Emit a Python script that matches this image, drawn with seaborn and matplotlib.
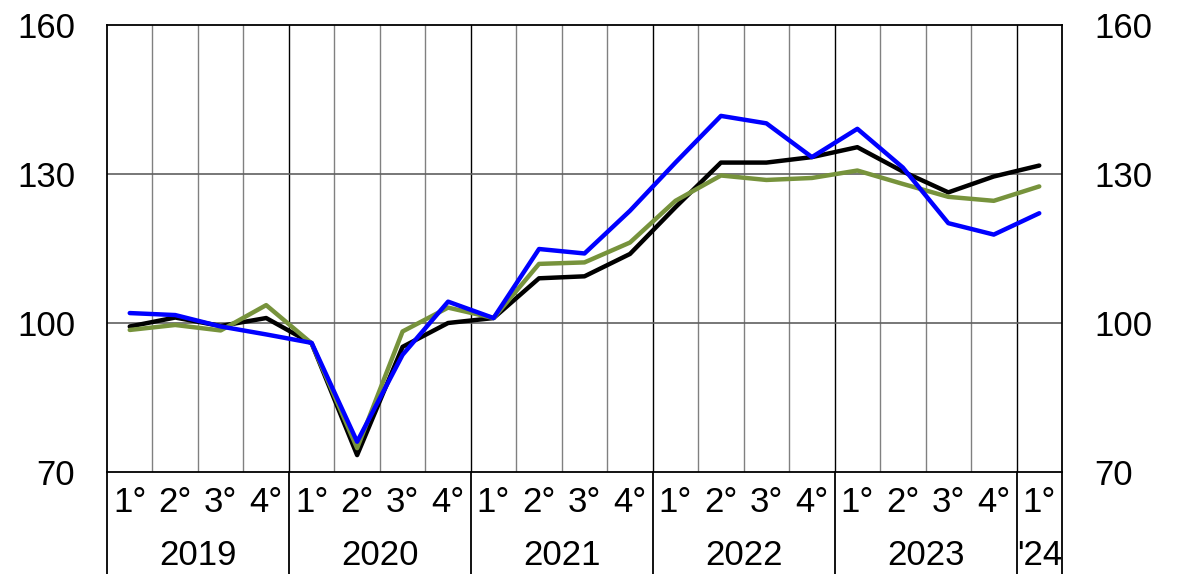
import matplotlib
matplotlib.use("Agg")
import matplotlib.pyplot as plt
import matplotlib.transforms as mtransforms
import numpy as np
import pandas as pd
import seaborn as sns

# quarters 2019 Q1 .. 2024 Q1
quarter_labels = ["1°", "2°", "3°", "4°"] * 5 + ["1°"]
year_labels = ["2019", "2020", "2021", "2022", "2023", "'24"]
year_sizes = [4, 4, 4, 4, 4, 1]

black_series = [99.3, 101.1, 99.4, 101.0, 95.9, 73.4, 95.2, 100.0, 101.0, 109.0, 109.4,
                113.9, 123.3, 132.3, 132.3, 133.4, 135.4, 130.5, 126.3, 129.5, 131.7]
green_series = [98.6, 99.6, 98.5, 103.6, 95.9, 74.8, 98.3, 103.1, 101.0, 111.9, 112.2,
                116.2, 124.6, 129.7, 128.8, 129.2, 130.7, 128.0, 125.4, 124.6, 127.5]
blue_series = [102.0, 101.6, 99.3, 97.7, 96.0, 76.1, 93.6, 104.3, 101.0, 114.9, 114.0,
               122.6, 132.3, 141.7, 140.2, 133.4, 139.1, 131.3, 120.1, 117.8, 122.1]

yticks = [70, 100, 130, 160]

sns.set_style("white")
plt.rcParams['font.family'] = ['Liberation Sans', 'DejaVu Sans']
plt.rcParams['text.color'] = 'black'
plt.rcParams['ytick.color'] = 'black'
plt.rcParams['ytick.labelcolor'] = 'black'

n = len(quarter_labels)
x = np.arange(n)
df = pd.DataFrame({
    "x": np.concatenate([x, x, x]),
    "value": black_series + green_series + blue_series,
    "serie": ["serie 1"] * n + ["serie 2"] * n + ["serie 3"] * n,
})
palette = {"serie 1": "#000000", "serie 2": "#77933C", "serie 3": "#0000FF"}

fig = plt.figure(figsize=(11.78, 5.74), dpi=100)
ax = fig.add_axes([107 / 1178, 102 / 574, 955 / 1178, 447 / 574])

# vertical grid: quarter lines grey, year lines black
bounds = np.arange(n + 1) - 0.5
year_bounds = np.cumsum([0] + year_sizes) - 0.5
for b in bounds[1:-1]:
    col = "#000000" if b in year_bounds else "#808080"
    ax.axvline(b, color=col, lw=1.0, zorder=1)
for yv in [100, 130]:
    ax.axhline(yv, color="#606060", lw=1.2, zorder=1)

sns.lineplot(data=df, x="x", y="value", hue="serie", palette=palette,
             linewidth=3.2, legend=False, ax=ax, zorder=3)

ax.set_xlim(-0.5, n - 0.5)
ax.set_ylim(70, 160)
ax.set_yticks(yticks)
ax.set_xticks([])
ax.set_xlabel("")
ax.set_ylabel("")
ax.tick_params(axis="y", length=0, labelsize=25, pad=23, labelcolor="black")
for s in ax.spines.values():
    s.set_color("#000000")
    s.set_linewidth(1.3)

ax2 = ax.twinx()
ax2.set_ylim(70, 160)
ax2.set_yticks(yticks)
ax2.tick_params(axis="y", length=0, labelsize=25, pad=23, labelcolor="black")
for s in ax2.spines.values():
    s.set_visible(False)

# category labels below the axis
trans = mtransforms.blended_transform_factory(ax.transData, ax.transAxes)
for xi, lab in zip(x, quarter_labels):
    ax.text(xi, -0.069, lab, transform=trans, ha="center", va="center", fontsize=25, color="black")
starts = np.cumsum([0] + year_sizes[:-1])
for st, sz, lab in zip(starts, year_sizes, year_labels):
    ax.text(st + (sz - 1) / 2, -0.186, lab, transform=trans, ha="center", va="center",
            fontsize=25, color="black")
for b in year_bounds:
    ax.plot([b, b], [0, -0.23], transform=trans, color="#000000", lw=1.3, clip_on=False)

fig.savefig("out.png", dpi=100)
